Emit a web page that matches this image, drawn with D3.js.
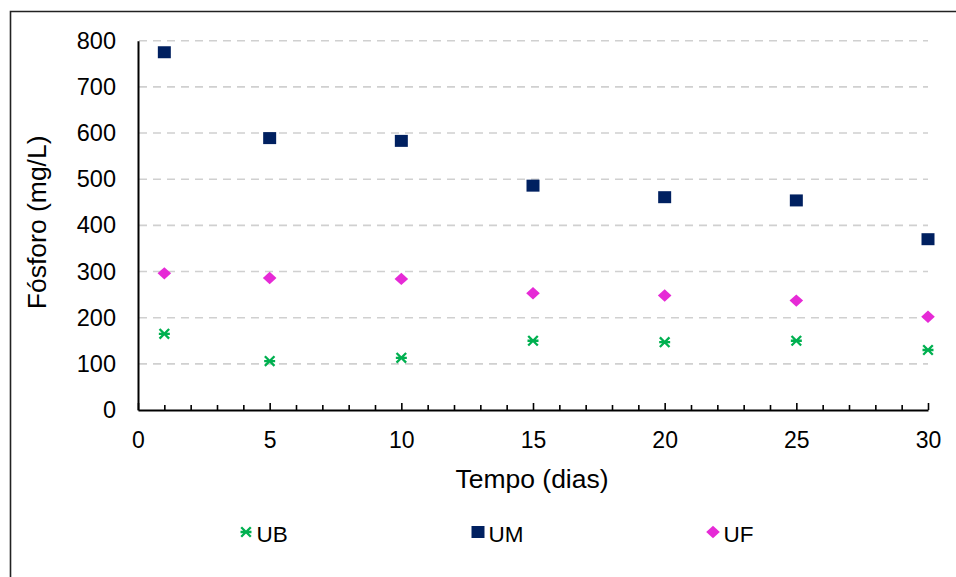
<!DOCTYPE html>
<html>
<head>
<meta charset="utf-8">
<script src="https://cdn.jsdelivr.net/npm/d3@7"></script>
<style>
  html, body { margin: 0; padding: 0; background: #fff; }
  svg { display: block; font-family: "Liberation Sans", Arial, sans-serif; }
</style>
</head>
<body>
<svg id="chart" width="956" height="577"></svg>
<script>
// Phosphorus concentration over time for three units
const days = [1, 5, 10, 15, 20, 25, 30];
const ubValues = [165, 106, 113, 150, 147, 150, 130];
const umValues = [775, 589, 583, 486, 461, 454, 370];
const ufValues = [296, 286, 284, 253, 248, 237, 202];
const xMajorTicks = [0, 5, 10, 15, 20, 25, 30];
const yTicks = [0, 100, 200, 300, 400, 500, 600, 700, 800];
const seriesNames = ["UB", "UM", "UF"];

const colors = { UB: "#00b050", UM: "#002060", UF: "#e62ad6" };

const svg = d3.select("#chart");

const x = d3.scaleLinear().domain([0, 30]).range([138, 928]);
const y = d3.scaleLinear().domain([0, 800]).range([410, 40.7]);

// outer frame (only top and left edges fall inside the view)
svg.append("path")
  .attr("d", "M10.5,600 V11.5 H960")
  .attr("fill", "none")
  .attr("stroke", "#222")
  .attr("stroke-width", 1.6);

// dashed horizontal gridlines
svg.append("g")
  .selectAll("line")
  .data(yTicks.filter(d => d > 0))
  .join("line")
  .attr("x1", x(0) + 1)
  .attr("x2", x(30))
  .attr("y1", d => y(d))
  .attr("y2", d => y(d))
  .attr("stroke", "#d0d0d0")
  .attr("stroke-width", 1.6)
  .attr("stroke-dasharray", "8,6");

// minor ticks on the time axis
const minorTicks = d3.range(0, 31).filter(d => d % 5 !== 0);
svg.append("g")
  .attr("transform", `translate(0,${y(0)})`)
  .call(d3.axisBottom(x).tickValues(minorTicks).tickSize(-5).tickSizeOuter(0).tickFormat(""))
  .call(g => g.select(".domain").remove())
  .call(g => g.selectAll(".tick line").attr("stroke", "#000").attr("stroke-width", 1.6));

// major ticks and labels on the time axis
svg.append("g")
  .attr("transform", `translate(0,${y(0)})`)
  .call(d3.axisBottom(x).tickValues(xMajorTicks).tickSize(-7).tickSizeOuter(0).tickPadding(22))
  .call(g => g.select(".domain").attr("stroke", "#000").attr("stroke-width", 2))
  .call(g => g.selectAll(".tick line").attr("stroke", "#000").attr("stroke-width", 1.6))
  .call(g => g.selectAll(".tick text")
    .attr("fill", "#000")
    .attr("font-size", 23)
    .attr("font-family", "Liberation Sans, Arial, sans-serif"));

// value axis
svg.append("g")
  .attr("transform", `translate(${x(0)},0)`)
  .call(d3.axisLeft(y).tickValues(yTicks).tickSize(0).tickSizeOuter(0).tickPadding(22))
  .call(g => g.select(".domain").attr("stroke", "#000").attr("stroke-width", 2))
  .call(g => g.selectAll(".tick text")
    .attr("fill", "#000")
    .attr("font-size", 23.5)
    .attr("font-family", "Liberation Sans, Arial, sans-serif"));

// axis titles
svg.append("text")
  .attr("x", (x(0) + x(30)) / 2 - 1)
  .attr("y", 488)
  .attr("text-anchor", "middle")
  .attr("font-size", 26.5)
  .attr("fill", "#000")
  .text("Tempo (dias)");

svg.append("text")
  .attr("transform", `translate(46,${(y(0) + y(800)) / 2 - 3}) rotate(-90)`)
  .attr("text-anchor", "middle")
  .attr("font-size", 26.5)
  .attr("fill", "#000")
  .text("Fósforo (mg/L)");

// marker shapes
const squarePath = "M-6.5,-6 H6.5 V6 H-6.5 Z";
const diamondPath = "M0,-6.2 L6.8,0 L0,6.2 L-6.8,0 Z";
const starPath = "M-4.8,-4.8 L4.8,4.8 M-4.8,4.8 L4.8,-4.8 M-5.5,0 H5.5";

function drawMarker(g, name) {
  if (name === "UM") {
    g.append("path").attr("d", squarePath).attr("fill", colors.UM);
  } else if (name === "UF") {
    g.append("path").attr("d", diamondPath).attr("fill", colors.UF);
  } else {
    g.append("path").attr("d", starPath).attr("fill", "none")
      .attr("stroke", colors.UB).attr("stroke-width", 2.3);
  }
}

const series = [
  { name: "UB", values: ubValues },
  { name: "UM", values: umValues },
  { name: "UF", values: ufValues }
];

const plot = svg.append("g");
series.forEach(s => {
  s.values.forEach((v, i) => {
    const g = plot.append("g")
      .attr("transform", `translate(${x(days[i])},${y(v)})`);
    drawMarker(g, s.name);
  });
});

// legend
const legendX = [246, 478, 713];
const legendY = 532;
seriesNames.forEach((name, i) => {
  const g = svg.append("g").attr("transform", `translate(${legendX[i]},${legendY})`);
  drawMarker(g, name);
  g.append("text")
    .attr("x", 10.5)
    .attr("y", 9.5)
    .attr("font-size", 22.5)
    .attr("fill", "#000")
    .text(name);
});
</script>
</body>
</html>
